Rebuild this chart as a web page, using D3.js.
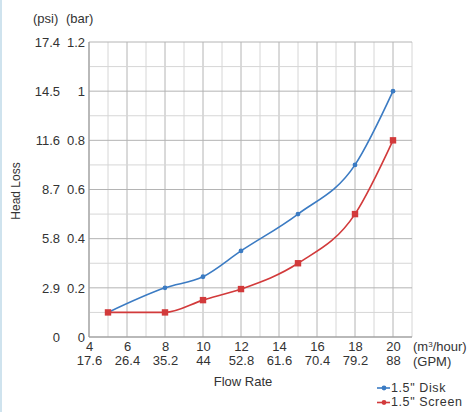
<!DOCTYPE html>
<html>
<head>
<meta charset="utf-8">
<script src="https://cdn.jsdelivr.net/npm/d3@7"></script>
<style>
  html, body { margin: 0; padding: 0; background: #fff; }
  body { width: 469px; height: 412px; overflow: hidden; border-left: 2px solid #cfe3ee; box-sizing: border-box; }
  svg { display: block; font-family: "Liberation Sans", Arial, sans-serif; }
  .axis text { fill: #333; font-size: 13px; }
  .axis path, .axis line { display: none; }
</style>
</head>
<body>
<div id="chart"></div>
<script>
// flow rate (m3/hour) and head loss (bar)
const flow = [5, 8, 10, 12, 15, 18, 20];
const diskLoss = [0.1, 0.2, 0.245, 0.35, 0.5, 0.7, 1.0];
const screenLoss = [0.1, 0.1, 0.15, 0.195, 0.3, 0.5, 0.8];

const flowTicks = [4, 6, 8, 10, 12, 14, 16, 18, 20];
const gpmLabels = ['17.6', '26.4', '35.2', '44', '52.8', '61.6', '70.4', '79.2', '88'];
const barTicks = [0, 0.2, 0.4, 0.6, 0.8, 1.0, 1.2];
const psiLabels = ['0', '2.9', '5.8', '8.7', '11.6', '14.5', '17.4'];

const series = [
  { name: '1.5" Disk', values: diskLoss, color: '#3b7bc3', marker: 'circle' },
  { name: '1.5" Screen', values: screenLoss, color: '#d23a3b', marker: 'square' }
];

const W = 467, H = 412;
const svg = d3.select('#chart').append('svg')
  .attr('width', W)
  .attr('height', H);

const x = d3.scaleLinear().domain([4, 21]).range([87, 410]);
const y = d3.scaleLinear().domain([0, 1.2]).range([337, 42]);

// grid
const grid = svg.append('g');
d3.range(4, 22).forEach(v => {
  grid.append('line')
    .attr('x1', x(v)).attr('x2', x(v))
    .attr('y1', y(0)).attr('y2', y(1.2))
    .attr('stroke', v % 2 === 0 ? '#b4b4b4' : '#d6d6d6')
    .attr('stroke-width', 1);
});
d3.range(0, 13).forEach(i => {
  grid.append('line')
    .attr('x1', x(4)).attr('x2', x(21))
    .attr('y1', y(i / 10)).attr('y2', y(i / 10))
    .attr('stroke', i % 2 === 0 ? '#b4b4b4' : '#d6d6d6')
    .attr('stroke-width', 1);
});
// axis lines
svg.append('line')
  .attr('x1', x(4)).attr('x2', x(4)).attr('y1', y(0)).attr('y2', y(1.2))
  .attr('stroke', '#999');
svg.append('line')
  .attr('x1', x(4)).attr('x2', x(21)).attr('y1', y(0)).attr('y2', y(0))
  .attr('stroke', '#999');

// y axes: bar and psi
svg.append('g').attr('class', 'axis')
  .attr('transform', `translate(${x(4)},0)`)
  .call(d3.axisLeft(y).tickValues(barTicks).tickSize(0).tickPadding(4).tickFormat(d3.format('~g')));
svg.append('g').attr('class', 'axis')
  .attr('transform', `translate(58,0)`)
  .call(d3.axisLeft(y).tickValues(barTicks).tickSize(0).tickPadding(0)
    .tickFormat((d, i) => psiLabels[i]));

// x axes: m3/hour and GPM
svg.append('g').attr('class', 'axis')
  .attr('transform', `translate(0,${y(0)})`)
  .call(d3.axisBottom(x).tickValues(flowTicks).tickSize(0).tickPadding(5).tickFormat(d3.format('d')));
svg.append('g').attr('class', 'axis')
  .attr('transform', `translate(0,${y(0)})`)
  .call(d3.axisBottom(x).tickValues(flowTicks).tickSize(0).tickPadding(19)
    .tickFormat((d, i) => gpmLabels[i]));

// unit labels
const txt = (tx, ty, s, anchor, fs) => svg.append('text')
  .attr('x', tx).attr('y', ty)
  .attr('text-anchor', anchor || 'start')
  .attr('fill', '#333')
  .attr('font-size', fs || 13)
  .text(s);
txt(31, 23, '(psi)');
txt(64, 23, '(bar)');
const m3 = txt(411, 351, '(m');
m3.append('tspan').attr('dy', -4).attr('font-size', 8).text('3');
m3.append('tspan').attr('dy', 4).text('/hour)');
txt(411, 366, '(GPM)');
txt(241, 386, 'Flow Rate', 'middle');
svg.append('text')
  .attr('transform', `translate(18,191) rotate(-90)`)
  .attr('text-anchor', 'middle')
  .attr('fill', '#333')
  .attr('font-size', 12)
  .text('Head Loss');

// lines
const line = d3.line()
  .x((d, i) => x(flow[i]))
  .y(d => y(d))
  .curve(d3.curveMonotoneX);

function marker(g, cx, cy, s) {
  if (s.marker === 'square') {
    g.append('rect')
      .attr('x', cx - 3.2).attr('y', cy - 3.2)
      .attr('width', 6.4).attr('height', 6.4)
      .attr('fill', s.color);
  } else {
    g.append('circle')
      .attr('cx', cx).attr('cy', cy).attr('r', 2.4)
      .attr('fill', s.color);
  }
}

series.forEach(s => {
  svg.append('path')
    .datum(s.values)
    .attr('fill', 'none')
    .attr('stroke', s.color)
    .attr('stroke-width', 1.6)
    .attr('d', line);
  const g = svg.append('g');
  s.values.forEach((v, i) => marker(g, x(flow[i]), y(v), s));
});

// legend
series.forEach((s, i) => {
  const ly = 387 + i * 14.5;
  const g = svg.append('g');
  g.append('line')
    .attr('x1', 375).attr('x2', 388)
    .attr('y1', ly + 1).attr('y2', ly + 1)
    .attr('stroke', s.color).attr('stroke-width', 1.6);
  marker(g, 382, ly + 1, { color: s.color, marker: 'circle' });
  g.append('text')
    .attr('x', 389).attr('y', ly + 4.5)
    .attr('fill', '#333')
    .attr('font-size', 12.5)
    .attr('letter-spacing', 0.6)
    .text(s.name);
});
</script>
</body>
</html>
